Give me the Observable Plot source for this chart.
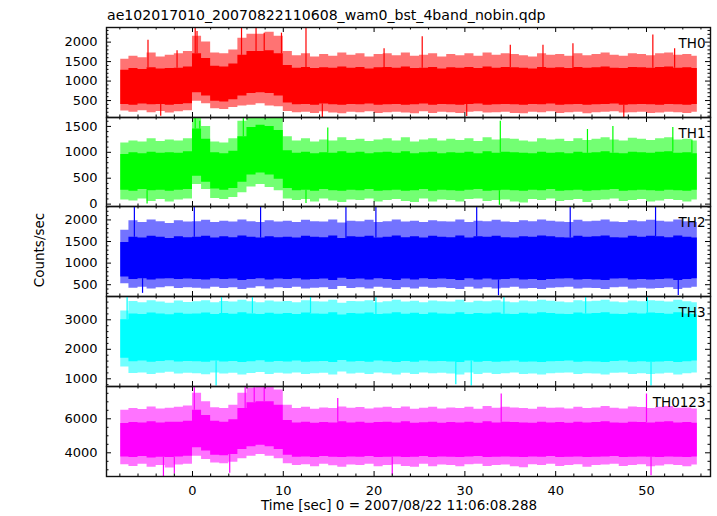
<!DOCTYPE html>
<html><head><meta charset="utf-8">
<script src="https://cdn.jsdelivr.net/npm/d3@7"></script>
<script src="https://cdn.jsdelivr.net/npm/@observablehq/plot@0.6"></script>
<style>
body{margin:0;background:#fff;}
#chart{position:relative;width:717px;height:516px;font-family:"DejaVu Sans",sans-serif;color:#000;overflow:hidden;}
.lbl{position:absolute;white-space:nowrap;line-height:1;font-size:13px;}
</style></head><body><div id="chart"></div>
<script>
// ---- data (1 s bins) ----
const times = [-7.9,-7,-6,-5,-4,-3,-2,-1,0,1,2,3,4,5,6,7,8,9,10,11,12,13,14,15,16,17,18,19,20,21,22,23,24,25,26,27,28,29,30,31,32,33,34,35,36,37,38,39,40,41,42,43,44,45,46,47,48,49,50,51,52,53,54,55];
const tEnd = 55.6;
const xMajor = [0,10,20,30,40,50];
const xMinor = [-8,-6,-4,-2,2,4,6,8,12,14,16,18,22,24,26,28,32,34,36,38,42,44,46,48,52,54,56];

const names = ["TH0","TH1","TH2","TH3","TH0123"];
const colors = ["#ff0000","#00ff00","#0000ff","#00ffff","#ff00ff"];
const yDomains = [[65,2375],[-46,1672],[227,2311],[739,3790],[2606,7900]];
const yMajor = [[500,1000,1500,2000],[0,500,1000,1500],[500,1000,1500,2000],[1000,2000,3000],[4000,6000]];
const yMinorStep = [100,100,100,200,500];

const th0Hi = [1560,1640,1600,1720,1620,1660,1700,1760,2150,2000,1720,1700,1800,2100,2200,2200,2250,2150,1760,
1650,1700,1620,1680,1640,1720,1660,1700,1620,1680,1700,1650,1720,1640,1660,1700,1620,1680,1650,1700,1640,1720,1660,1700,1680,1650,1620,1700,1660,1680,1640,1700,1650,1680,1720,1660,1640,1700,1680,1650,1700,1720,1660,1680,1640];
const th0CHi = [1280,1320,1300,1340,1310,1320,1330,1360,1700,1580,1380,1360,1440,1660,1760,1760,1780,1700,1400,
1330,1350,1320,1340,1330,1360,1330,1350,1310,1340,1350,1330,1360,1320,1330,1350,1310,1340,1330,1350,1320,1360,1330,1350,1340,1330,1310,1350,1330,1340,1320,1350,1330,1340,1360,1330,1320,1350,1340,1330,1350,1360,1330,1340,1320];
const th0CLo = [400,380,410,390,400,380,400,420,700,620,480,460,520,620,680,700,680,620,440,
390,400,380,410,390,380,400,390,410,380,390,400,380,390,410,380,400,390,380,400,410,380,390,400,390,380,400,390,410,380,390,400,380,390,400,410,380,390,400,390,380,400,390,380,400];
const th0Lo = [230,200,240,190,220,180,210,240,480,420,290,270,320,360,380,420,360,340,220,
190,200,170,210,180,160,200,190,210,170,190,200,180,160,210,170,200,190,170,200,210,180,190,200,170,160,200,190,210,170,190,200,160,190,200,210,180,190,200,170,180,200,190,170,200];

const th1Hi = [1180,1220,1200,1260,1210,1240,1220,1260,1700,1500,1200,1180,1260,1600,1700,1700,1700,1700,1300,
1220,1260,1200,1240,1220,1280,1230,1250,1210,1240,1260,1220,1280,1200,1240,1260,1220,1250,1230,1260,1210,1280,1240,1260,1250,1220,1200,1260,1240,1250,1210,1260,1230,1250,1280,1240,1220,1270,1250,1230,1260,1280,1240,1250,1220];
const th1CHi = [960,990,970,1000,980,990,980,1010,1450,1250,990,970,1020,1300,1480,1520,1500,1420,1030,
980,1000,970,990,980,1010,980,1000,970,990,1000,980,1010,970,990,1000,970,990,980,1000,970,1010,980,1000,990,980,970,1000,980,990,970,1000,980,990,1010,980,970,1000,990,980,1000,1010,980,990,970];
const th1CLo = [270,250,280,260,270,250,270,280,540,420,290,270,300,420,560,600,560,480,300,
260,270,250,280,260,250,270,260,280,250,260,270,250,260,280,250,270,260,250,270,280,250,260,270,260,250,270,260,280,250,260,270,250,260,270,280,250,260,270,260,250,270,260,250,270];
const th1Lo = [80,60,100,50,90,40,80,100,380,280,110,90,130,220,330,380,320,260,100,
70,90,40,100,60,30,80,70,100,40,70,90,50,30,100,40,80,70,40,90,100,50,70,80,40,20,90,70,100,50,70,90,30,70,80,100,50,70,90,40,60,90,70,40,80];

const th2Hi = [1760,1980,1940,2000,1960,1920,1980,1950,1960,1990,1940,1970,1950,2000,1960,1940,1980,1950,1970,
1940,1990,1960,1950,2000,1930,1970,1960,1990,1940,1960,2000,1950,1970,1940,1980,1960,1950,2000,1940,1970,1960,1990,1950,1940,1980,1960,2000,1970,1950,1940,1990,1960,1970,2000,1950,1940,1980,1960,1990,1970,1950,2000,1960,1940];
const th2CHi = [1480,1600,1580,1620,1600,1570,1610,1590,1600,1620,1580,1610,1590,1630,1600,1580,1610,1590,1600,
1580,1620,1600,1590,1630,1570,1610,1600,1620,1580,1600,1630,1590,1610,1580,1620,1600,1590,1630,1580,1610,1600,1620,1590,1580,1610,1600,1630,1610,1590,1580,1620,1600,1610,1630,1590,1580,1620,1600,1620,1610,1590,1630,1600,1580];
const th2CLo = [680,620,640,610,630,640,620,630,620,610,640,620,630,600,620,640,610,630,620,
640,610,620,630,600,650,620,630,610,640,620,600,630,610,640,620,630,620,600,640,610,630,610,620,640,610,620,600,620,630,640,610,620,610,600,630,640,610,620,610,620,630,600,620,640];
const th2Lo = [520,420,440,400,430,450,410,430,420,400,440,410,430,390,420,450,400,430,410,
440,400,420,430,390,460,410,430,400,440,420,390,430,400,440,420,430,410,390,440,400,430,400,420,440,400,410,390,420,430,440,400,420,410,390,430,440,400,420,400,410,430,390,420,440];

const th3Hi = [3300,3620,3580,3650,3600,3560,3640,3590,3610,3650,3580,3620,3600,3660,3610,3580,3640,3600,3620,
3580,3650,3610,3600,3660,3560,3620,3610,3650,3580,3610,3660,3600,3630,3580,3640,3610,3600,3660,3580,3630,3610,3650,3600,3580,3640,3610,3660,3630,3600,3580,3650,3610,3630,3660,3600,3580,3640,3610,3650,3630,3600,3660,3610,3580];
const th3CHi = [3000,3200,3180,3230,3200,3170,3220,3190,3200,3230,3180,3210,3190,3240,3200,3180,3220,3190,3210,
3180,3230,3200,3190,3240,3160,3210,3200,3230,3180,3200,3240,3190,3220,3180,3230,3200,3190,3240,3180,3210,3200,3230,3190,3180,3220,3200,3240,3210,3190,3180,3230,3200,3210,3240,3190,3180,3220,3200,3230,3210,3190,3240,3200,3180];
const th3CLo = [1700,1580,1600,1560,1590,1610,1570,1590,1580,1560,1600,1570,1590,1550,1580,1610,1560,1590,1570,
1600,1560,1580,1590,1550,1620,1570,1590,1560,1600,1580,1550,1590,1560,1600,1580,1590,1570,1550,1600,1560,1590,1560,1580,1600,1560,1570,1550,1580,1590,1600,1560,1580,1570,1550,1590,1600,1560,1580,1560,1570,1590,1550,1580,1600];
const th3Lo = [1400,1180,1200,1150,1190,1220,1160,1190,1170,1140,1200,1160,1190,1130,1180,1210,1150,1190,1160,
1200,1150,1170,1190,1130,1230,1160,1190,1150,1200,1170,1130,1190,1150,1200,1170,1190,1160,1130,1200,1150,1190,1150,1170,1200,1150,1160,1130,1170,1190,1200,1150,1170,1160,1130,1190,1200,1150,1170,1150,1160,1190,1130,1170,1200];

const th4Hi = [6500,6600,6550,6700,6580,6620,6680,6750,7500,7000,6650,6600,6800,7500,7800,7900,7900,7700,6800,
6600,6680,6560,6640,6600,6700,6620,6660,6580,6640,6680,6600,6700,6560,6620,6680,6580,6640,6600,6680,6560,6720,6620,6680,6640,6600,6560,6680,6620,6640,6580,6680,6600,6640,6720,6620,6580,6700,6660,6600,6680,6720,6620,6640,6580];
const th4CHi = [5720,5780,5750,5820,5760,5790,5800,5850,6500,6200,5850,5800,5950,6600,6950,7000,7000,6800,5900,
5760,5800,5740,5780,5760,5820,5760,5800,5740,5780,5800,5760,5820,5740,5770,5800,5740,5780,5760,5800,5740,5820,5760,5800,5780,5760,5740,5800,5760,5780,5740,5800,5760,5780,5820,5760,5740,5800,5780,5760,5800,5820,5760,5780,5740];
const th4CLo = [3760,3720,3780,3700,3740,3720,3760,3800,4300,4100,3850,3820,3900,4200,4350,4450,4350,4200,3850,
3740,3760,3720,3780,3740,3720,3760,3740,3780,3720,3740,3760,3720,3740,3780,3720,3760,3740,3720,3760,3780,3720,3740,3760,3740,3720,3760,3740,3780,3720,3740,3760,3720,3740,3760,3780,3720,3740,3760,3740,3720,3760,3740,3720,3760];
const th4Lo = [3300,3200,3320,3150,3250,3100,3280,3330,3800,3600,3400,3350,3450,3650,3800,3900,3800,3650,3350,
3250,3300,3180,3320,3240,3150,3280,3250,3320,3180,3250,3300,3200,3150,3320,3180,3280,3250,3180,3300,3320,3200,3250,3280,3180,3120,3300,3250,3320,3200,3250,3300,3150,3250,3280,3320,3200,3250,3300,3180,3220,3300,3250,3180,3280];

// notable single spikes: time, value
const th0SpikeT = [-4.9,-1.7,0.3,0.5,5.4,7.0,7.9,9.8,12.5,21.1,25.3,35,38.6,41.9,50.7,53.1,-3.5,14.3,47.5,30.2];
const th0SpikeV = [2050,1780,2375,2270,2375,2375,2230,2230,2375,1830,2140,1920,1920,1960,2180,1830,100,65,65,90];
const th1SpikeT = [0.3,0.8,5.6,14.9,33.9,43.5,46.3,52.9,55,33.8,12.5,-5];
const th1SpikeV = [1672,1600,1672,1470,1600,1440,1500,1480,1240,-20,10,0];
const th2SpikeT = [-6.4,0.2,7.5,16.9,20.2,31.3,41.6,51,33.7,53.5,-5.5];
const th2SpikeV = [2311,2311,2311,2311,2311,2311,2311,2311,244,250,300];
const th3SpikeT = [-7.2,3.2,6.6,13,20.2,34.3,43.3,50.1,2.6,29,30.7,50.5];
const th3SpikeV = [3790,3790,3790,3790,3790,3790,3790,3790,760,800,760,760];
const th4SpikeT = [0.2,5.8,6.8,7.9,34,50,16,-3.2,-2.0,4.1,22,50.5];
const th4SpikeV = [7900,7900,7900,7900,7460,7460,7200,2606,2750,2800,2700,2650];

const series = [
  {hi:th0Hi,chi:th0CHi,clo:th0CLo,lo:th0Lo,st:th0SpikeT,sv:th0SpikeV},
  {hi:th1Hi,chi:th1CHi,clo:th1CLo,lo:th1Lo,st:th1SpikeT,sv:th1SpikeV},
  {hi:th2Hi,chi:th2CHi,clo:th2CLo,lo:th2Lo,st:th2SpikeT,sv:th2SpikeV},
  {hi:th3Hi,chi:th3CHi,clo:th3CLo,lo:th3Lo,st:th3SpikeT,sv:th3SpikeV},
  {hi:th4Hi,chi:th4CHi,clo:th4CLo,lo:th4Lo,st:th4SpikeT,sv:th4SpikeV}
];

// ---- layout ----
const chart = document.getElementById("chart");
const tops = [27,117,206,296,386];
const heights = [90,89,90,90,90];
const ML = 106, MR = 7, W = 717;
const PW = W - ML - MR;
const FONT = "DejaVu Sans, sans-serif";
const MAJ = 5, MIN = 2.5;

function binIndex(t){ let i = 0; for (let k=0;k<times.length;k++){ if (times[k] <= t) i = k; } return i; }

series.forEach((s, p) => {
  const rows = times.map((t,i) => ({t, hi:s.hi[i], chi:s.chi[i], clo:s.clo[i], lo:s.lo[i]}));
  rows.push({...rows[rows.length-1], t:tEnd});
  const spikes = s.st.map((t,i) => {
    const b = binIndex(t);
    const v = s.sv[i];
    const mid = (s.chi[b] + s.clo[b]) / 2;
    return {t, v, base: v > mid ? s.chi[b] : s.clo[b]};
  });
  const [d0,d1] = yDomains[p];
  const minor = d3.range(Math.ceil(d0/yMinorStep[p])*yMinorStep[p], d1, yMinorStep[p]).filter(v => !yMajor[p].includes(v));
  const bottom = p === 4;
  const h = heights[p];
  const tk = {stroke:"#000", strokeWidth:1};
  const marks = [
    Plot.areaY(rows, {x:"t", y1:"lo", y2:"hi", curve:"step-after", fill:colors[p], fillOpacity:0.55, clip:true}),
    Plot.areaY(rows, {x:"t", y1:"clo", y2:"chi", curve:"step-after", fill:colors[p], clip:true}),
    Plot.ruleX(spikes, {x:"t", y1:"base", y2:"v", stroke:colors[p], strokeWidth:1.2, clip:true}),
    // inward tick marks on all four sides
    Plot.tickY(yMajor[p], {y:d=>d, insetRight:PW-MAJ, ...tk}),
    Plot.tickY(yMajor[p], {y:d=>d, insetLeft:PW-MAJ, ...tk}),
    Plot.tickY(minor, {y:d=>d, insetRight:PW-MIN, ...tk}),
    Plot.tickY(minor, {y:d=>d, insetLeft:PW-MIN, ...tk}),
    Plot.tickX(xMajor, {x:d=>d, insetBottom:h-MAJ, ...tk}),
    Plot.tickX(xMajor, {x:d=>d, insetTop:h-MAJ, ...tk}),
    Plot.tickX(xMinor, {x:d=>d, insetBottom:h-MIN, ...tk}),
    Plot.tickX(xMinor, {x:d=>d, insetTop:h-MIN, ...tk}),
    Plot.frame({stroke:"#111", strokeWidth:1.4}),
    Plot.axisY(yMajor[p], {anchor:"left", tickSize:0, tickPadding:9, label:null, fontSize:13, tickFormat:d3.format("d")}),
    Plot.text([names[p]], {frameAnchor:"top-right", textAnchor:"end", dx:-5, dy:11, fontSize:13.5, fill:"#000"})
  ];
  if (bottom) marks.push(Plot.axisX(xMajor, {anchor:"bottom", tickSize:0, tickPadding:9, label:null, fontSize:13, tickFormat:d3.format("d")}));
  const svg = Plot.plot({
    width:W, height: h + (bottom ? 30 : 0),
    marginLeft:ML, marginRight:MR, marginTop:0, marginBottom: bottom ? 30 : 0,
    x:{domain:[-9.47,57.05], label:null, axis:null},
    y:{domain:yDomains[p], label:null, axis:null},
    style:{overflow:"visible", fontFamily:FONT, fontSize:"13px", background:"transparent", color:"#000"},
    marks
  });
  svg.style.position = "absolute";
  svg.style.top = tops[p] + "px";
  svg.style.left = "0px";
  chart.appendChild(svg);
});

function addLabel(text, css){
  const d = document.createElement("div");
  d.className = "lbl";
  d.textContent = text;
  Object.assign(d.style, css);
  chart.appendChild(d);
  return d;
}
addLabel("ae102017010_20070822110608_wam0_bst_4band_nobin.qdp", {left:"107px", top:"15px", transform:"translateY(-50%)", fontSize:"14.1px"});
addLabel("Counts/sec", {left:"40px", top:"250px", transform:"translate(-50%,-50%) rotate(-90deg)", fontSize:"13.5px"});
addLabel("Time [sec] 0 = 2007/08/22 11:06:08.288", {left:"399px", top:"506px", transform:"translate(-50%,-50%)", fontSize:"13.5px"});
</script></body></html>
